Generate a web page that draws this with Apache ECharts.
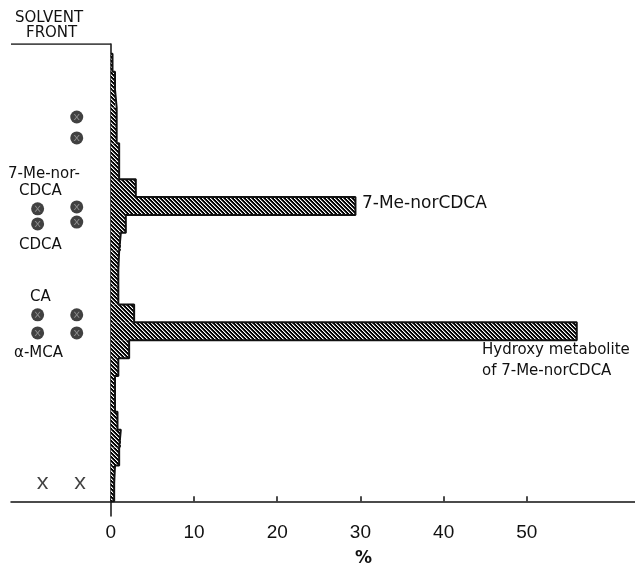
<!DOCTYPE html>
<html>
<head>
<meta charset="utf-8">
<script src="https://cdn.jsdelivr.net/npm/echarts@6/dist/echarts.min.js"></script>
<style>
  html, body { margin: 0; padding: 0; background: #fff; }
  #chart { width: 635px; height: 569px; }
</style>
</head>
<body>
<div id="chart"></div>
<script>
// Radioactivity per TLC fraction (%), fraction 0 = origin (bottom) ... 24 = near solvent front
const fractionPct = [0.4, 0.5, 1.0, 1.2, 0.8, 0.5, 0.5, 0.9, 2.2, 56.0, 2.8, 0.9, 0.9, 1.0, 1.2, 1.8, 29.4, 3.0, 1.0, 1.0, 0.7, 0.7, 0.5, 0.5, 0.2];
const xTicks = [0, 10, 20, 30, 40, 50];
// Reference standard spots (lane, fraction position)
const spotLanes = [-8.8, -4.1];
const spotsLaneA = [16.34, 15.5, 10.42, 9.41];
const spotsLaneB = [21.47, 20.3, 16.45, 15.6, 10.42, 9.41];
const originMarks = [[-8.2, 1.03], [-3.7, 1.03]];
const yMin = -0.82, yMax = 25.55, xMin = -12, xMax = 63;

// hatch pattern: black with thin white "\" lines
const tile = document.createElement('canvas');
tile.width = 4; tile.height = 4;
const tctx = tile.getContext('2d');
const img = tctx.createImageData(4, 4);
for (let y = 0; y < 4; y++) for (let x = 0; x < 4; x++) {
  const i = (y * 4 + x) * 4;
  const m = ((x - y) % 4 + 4) % 4;
  const c = m === 0 ? 255 : (m === 1 ? 110 : 0);
  img.data[i] = c; img.data[i+1] = c; img.data[i+2] = c; img.data[i+3] = 255;
}
tctx.putImageData(img, 0, 0);
const hatch = { image: tile, repeat: 'repeat' };

const barData = fractionPct.map((v, k) => [v, k]);
const outline = [[0, 0]];
fractionPct.forEach((v, k) => { outline.push([v, k]); outline.push([v, k + 1]); });
outline.push([0, fractionPct.length]);

const spotData = spotsLaneA.map(y => [spotLanes[0], y]).concat(spotsLaneB.map(y => [spotLanes[1], y]));

function label(text, left, top, size, weight) {
  return { type: 'text', left: left, top: top, z: 10,
    style: { text: text, fontFamily: 'DejaVu Sans', fontSize: size, fontWeight: weight || 'normal', fill: '#111' } };
}

const chart = echarts.init(document.getElementById('chart'), null, { renderer: 'canvas' });
chart.setOption({
  animation: false,
  backgroundColor: '#fff',
  grid: { left: 11, right: 0, top: 44, bottom: 53 },
  xAxis: {
    type: 'value', min: xMin, max: xMax,
    axisLine: { lineStyle: { color: '#111', width: 1.5 } },
    axisTick: { show: true, inside: true, length: 5, customValues: xTicks, lineStyle: { color: '#111', width: 1.5 } },
    axisLabel: { customValues: xTicks, fontFamily: 'Liberation Sans', fontSize: 19, color: '#111', margin: 7 },
    splitLine: { show: false }
  },
  yAxis: {
    type: 'value', min: yMin, max: yMax,
    axisLine: { show: true, onZero: true, lineStyle: { color: '#111', width: 1.5 } },
    axisTick: { show: false }, axisLabel: { show: false }, splitLine: { show: false }
  },
  series: [
    {
      type: 'custom',
      data: barData,
      encode: { x: 0, y: 1 },
      renderItem: function (params, api) {
        const v = api.value(0), k = api.value(1);
        const p0 = api.coord([0, k + 1]);
        const p1 = api.coord([v, k]);
        return { type: 'rect', shape: { x: p0[0], y: p0[1], width: p1[0] - p0[0], height: p1[1] - p0[1] }, style: { fill: hatch } };
      },
      z: 2
    },
    {
      type: 'line', data: outline, symbol: 'none',
      lineStyle: { color: '#111', width: 2 }, z: 3
    },
    {
      type: 'line', data: [[xMin, yMax], [0, yMax]], symbol: 'none',
      lineStyle: { color: '#111', width: 1.5 }, z: 3
    },
    {
      type: 'scatter', data: spotData, symbol: 'circle', symbolSize: 13,
      itemStyle: { color: '#111' }, z: 4
    },
    {
      type: 'scatter', data: spotData, symbol: 'path://M0,0 L2,0 L5,4 L8,0 L10,0 L6,5 L10,10 L8,10 L5,6 L2,10 L0,10 L4,5 Z',
      symbolSize: 6, itemStyle: { color: 'rgba(255,255,255,0.5)' }, z: 5
    },
    {
      type: 'scatter', data: originMarks,
      symbol: 'path://M0,0 L2,0 L5,4 L8,0 L10,0 L6,5 L10,10 L8,10 L5,6 L2,10 L0,10 L4,5 Z',
      symbolSize: [11, 12], itemStyle: { color: '#111' }, z: 4
    }
  ],
  graphic: [
    label('SOLVENT', 15, 11, 15),
    label('FRONT', 26, 26, 15),
    label('7-Me-nor-', 8, 167, 15),
    label('CDCA', 19, 184, 15),
    label('CDCA', 19, 238, 15),
    label('CA', 30, 290, 15),
    label('α-MCA', 14, 346, 15),
    label('7-Me-norCDCA', 362, 195, 17),
    label('Hydroxy metabolite', 482, 343, 15),
    label('of 7-Me-norCDCA', 482, 364, 15),
    label('%', 355, 550, 17, 'bold')
  ]
});
</script>
</body>
</html>
